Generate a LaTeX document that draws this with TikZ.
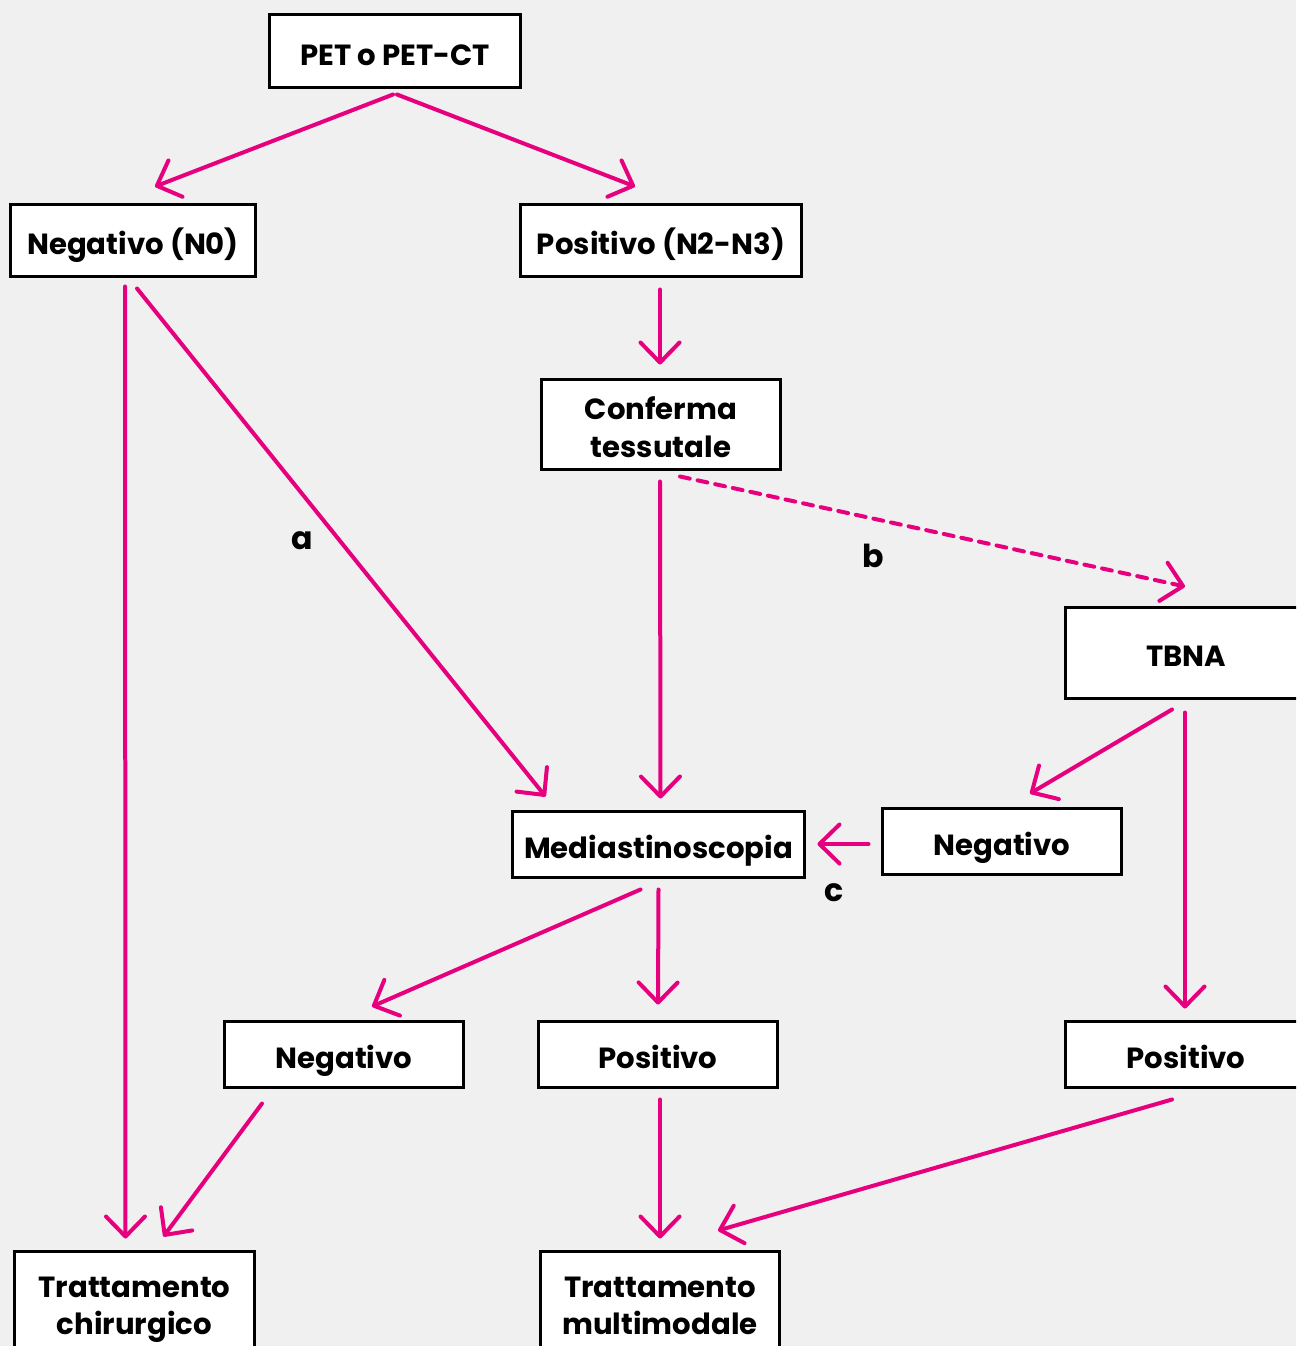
\documentclass[tikz,border=0pt]{standalone}
\usepackage{fontspec}
\setmainfont{Poppins}
\usetikzlibrary{arrows.meta,calc}

\definecolor{bgGray}{RGB}{240,240,240}
\definecolor{linkPink}{RGB}{230,0,126}

\tikzset{
  box/.style={draw=black, fill=white, line width=0.06cm, inner sep=0pt,
    align=center, font=\fontsize{16.6}{21.5}\selectfont\bfseries},
  oneline/.style={box, text height=16pt, text depth=0pt},
  twoline/.style={box, text height=37.5pt, text depth=0pt},
  link/.style={draw=linkPink, line width=0.08cm, line cap=round,
    -{Straight Barb[length=0.4cm,width=0.78cm,round]}},
  dashlink/.style={link, dash pattern=on 0.2cm off 0.16cm},
  tag/.style={font=\fontsize{18}{20}\selectfont\bfseries}
}

\begin{document}
\begin{tikzpicture}[x=0.02cm, y=-0.02cm]
\fill[bgGray] (0,0) rectangle (1296,1346);
\useasboundingbox (0,0) rectangle (1296,1346);
\clip (0,0) rectangle (1296,1346);

% boxes
\node[oneline, minimum width=5.04cm, minimum height=1.48cm] (pet) at (395,51) {PET o PET-CT};
\node[oneline, minimum width=4.92cm, minimum height=1.46cm] (neg0) at (133,240.5) {Negativo (N0)};
\node[oneline, minimum width=5.64cm, minimum height=1.46cm] (pos) at (661,240.5) {Positivo (N2-N3)};
\node[twoline, minimum width=4.8cm, minimum height=1.82cm] (conf) at (661,424.5) {Conferma\\tessutale};
\node[oneline, minimum width=4.84cm, minimum height=1.82cm] (tbna) at (1186,652.5) {TBNA};
\node[oneline, minimum width=4.8cm, minimum height=1.32cm] (negR) at (1002,841) {Negativo};
\node[oneline, minimum width=5.86cm, minimum height=1.32cm] (medi) at (658.5,844) {Mediastinoscopia};
\node[oneline, minimum width=4.8cm, minimum height=1.32cm] (negL) at (344,1054) {Negativo};
\node[oneline, minimum width=4.8cm, minimum height=1.32cm] (posM) at (658,1054) {Positivo};
\node[oneline, minimum width=4.84cm, minimum height=1.32cm] (posR) at (1186,1054) {Positivo};
\node[twoline, minimum width=4.82cm, minimum height=2.04cm] (chir) at (134.5,1302) {Trattamento\\chirurgico};
\node[twoline, minimum width=4.8cm, minimum height=2.04cm] (multi) at (660,1302) {Trattamento\\multimodale};

% labels
\node[tag] (tagA) at (302,541) {a};
\node[tag] (tagB) at (873,556) {b};
\node[tag] (tagC) at (834,893) {c};

% connectors
\draw[link] ($(pet.south)+(-2,5)$) -- ($(neg0.north)+(22,-16)$);
\draw[link] ($(pet.south)+(2,5)$) -- ($(pos.north)+(-26,-16)$);
\draw[link] ($(pos.south)+(-1,11)$) -- ($(conf.north)+(-1,-13)$);
\draw[link] ($(neg0.south)+(-8,8)$) -- ($(chir.north)+(-9,-11)$);
\draw[link] ($(neg0.south)+(4,10)$) -- ($(medi.north west)+(35,-13)$);
\draw[link] ($(conf.south)+(-1,10)$) -- ($(medi.north)+(2,-11)$);
\draw[dashlink] ($(conf.south)+(19,5)$) -- ($(tbna.north)+(-1,-19)$);
\draw[link] ($(tbna.south)+(-14,10)$) -- ($(negR.north)+(28,-13)$);
\draw[link] ($(tbna.south)+(-1,13)$) -- ($(posR.north)+(-1,-11)$);
\draw[link] ($(negR.west)+(-12,3)$) -- ($(medi.east)+(11,0)$);
\draw[link] ($(medi.south)+(-18,11)$) -- ($(negL.north)+(28,-13)$);
\draw[link] ($(medi.south)+(0,11)$) -- ($(posM.north)+(0,-15)$);
\draw[link] ($(negL.south)+(-82,15)$) -- ($(chir.north)+(29,-13)$);
\draw[link] ($(posM.south)+(2,11)$) -- ($(multi.north)+(0,-11)$);
\draw[link] ($(posR.south)+(-14,11)$) -- ($(multi.north)+(58,-19)$);
\end{tikzpicture}
\end{document}
